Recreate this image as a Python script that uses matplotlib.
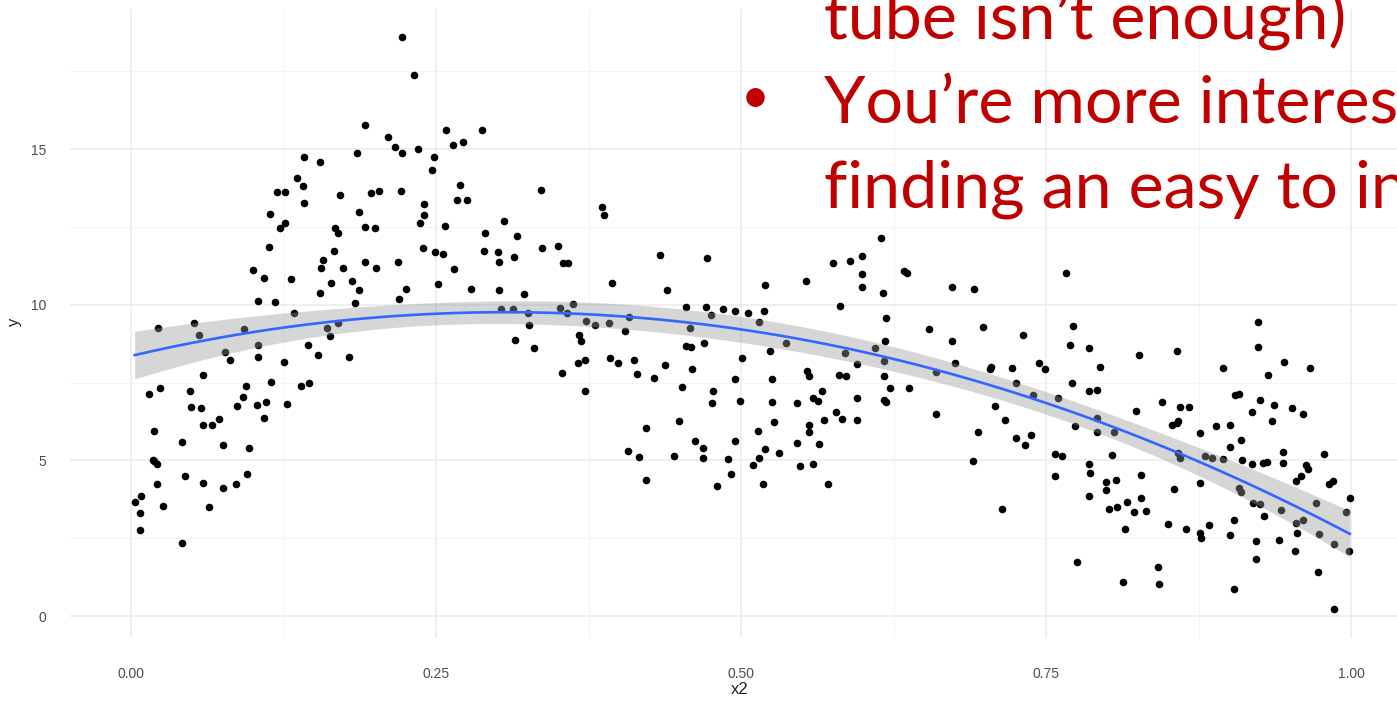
import numpy as np
import matplotlib
matplotlib.use("Agg")
import matplotlib.pyplot as plt

# ---- observations -------------------------------------------------------
x2 = np.array([
    0.114, 0.113, 0.100, 0.109, 0.104, 0.022, 0.052, 0.056, 0.093, 0.104, 0.077, 0.081,
    0.104, 0.059, 0.015, 0.024, 0.048, 0.094, 0.092, 0.087, 0.103, 0.111, 0.049, 0.057,
    0.059, 0.066, 0.072, 0.109, 0.019, 0.042, 0.075, 0.097, 0.018, 0.019, 0.021, 0.044,
    0.021, 0.059, 0.075, 0.086, 0.095, 0.003, 0.008, 0.007, 0.026, 0.064, 0.007, 0.042,
    0.222, 0.232, 0.192, 0.211, 0.216, 0.222, 0.235, 0.185, 0.142, 0.155, 0.136, 0.141,
    0.120, 0.126, 0.142, 0.171, 0.197, 0.203, 0.221, 0.187, 0.240, 0.240, 0.237, 0.122,
    0.126, 0.167, 0.170, 0.192, 0.200, 0.166, 0.157, 0.156, 0.174, 0.192, 0.201, 0.219,
    0.239, 0.131, 0.164, 0.155, 0.181, 0.187, 0.184, 0.220, 0.225, 0.118, 0.134, 0.161,
    0.163, 0.170, 0.145, 0.153, 0.179, 0.125, 0.115, 0.139, 0.146, 0.128,
    0.248, 0.247, 0.258, 0.264, 0.272, 0.288, 0.270, 0.267, 0.275, 0.257, 0.249, 0.256,
    0.265, 0.252, 0.279, 0.290, 0.289, 0.301, 0.302, 0.306, 0.316, 0.314, 0.302, 0.322,
    0.336, 0.337, 0.350, 0.354, 0.358, 0.303, 0.313, 0.325, 0.326, 0.315, 0.330, 0.352,
    0.357, 0.353,
    0.386, 0.388, 0.434, 0.472, 0.394, 0.439, 0.362, 0.367, 0.369, 0.366, 0.372, 0.372,
    0.373, 0.380, 0.392, 0.408, 0.405, 0.393, 0.399, 0.412, 0.415, 0.429, 0.438, 0.455,
    0.471, 0.475, 0.458, 0.455, 0.459, 0.470, 0.460, 0.452, 0.477, 0.476, 0.422, 0.449,
    0.407, 0.416, 0.422, 0.445, 0.462, 0.469, 0.469, 0.480,
    0.575, 0.589, 0.599, 0.599, 0.599, 0.520, 0.553, 0.581, 0.485, 0.495, 0.506, 0.519,
    0.515, 0.537, 0.585, 0.595, 0.501, 0.524, 0.495, 0.525, 0.554, 0.556, 0.566, 0.580,
    0.586, 0.499, 0.525, 0.546, 0.559, 0.563, 0.595, 0.527, 0.568, 0.556, 0.578, 0.583,
    0.595, 0.495, 0.514, 0.520, 0.515, 0.531, 0.546, 0.556, 0.564, 0.489, 0.492, 0.510,
    0.548, 0.559, 0.518, 0.571,
    0.615, 0.634, 0.636, 0.616, 0.673, 0.691, 0.619, 0.654, 0.673, 0.698, 0.610, 0.618,
    0.617, 0.617, 0.622, 0.638, 0.617, 0.619, 0.660, 0.675, 0.704, 0.705, 0.722, 0.725,
    0.708, 0.716, 0.660, 0.694, 0.725, 0.690, 0.714,
    0.766, 0.731, 0.772, 0.770, 0.785, 0.794, 0.744, 0.749, 0.771, 0.785, 0.792, 0.826,
    0.739, 0.760, 0.792, 0.774, 0.792, 0.806, 0.824, 0.845, 0.853, 0.738, 0.733, 0.757,
    0.763, 0.804, 0.785, 0.786, 0.757, 0.799, 0.807, 0.828, 0.785, 0.799, 0.802, 0.808,
    0.816, 0.822, 0.828, 0.832, 0.815, 0.850, 0.775, 0.813, 0.842, 0.843,
    0.924, 0.924, 0.857, 0.895, 0.945, 0.966, 0.932, 0.905, 0.908, 0.925, 0.860, 0.867,
    0.937, 0.919, 0.952, 0.961, 0.857, 0.858, 0.876, 0.889, 0.901, 0.935, 0.910, 0.901,
    0.880, 0.886, 0.895, 0.858, 0.860, 0.911, 0.919, 0.928, 0.931, 0.944, 0.944, 0.978,
    0.963, 0.965, 0.959, 0.955, 0.982, 0.985, 0.855, 0.876, 0.908, 0.910, 0.999, 0.971,
    0.920, 0.925, 0.943, 0.996, 0.929, 0.904, 0.884, 0.865, 0.876, 0.877, 0.901, 0.955,
    0.961, 0.956, 0.974, 0.986, 0.998, 0.922, 0.941, 0.954, 0.922, 0.973, 0.904, 0.986,
])

y = np.array([
    12.90, 11.85, 11.13, 10.86, 10.11, 9.24, 9.40, 9.02, 9.21, 8.72, 8.47, 8.23,
    8.33, 7.74, 7.13, 7.33, 7.23, 7.40, 7.04, 6.75, 6.79, 6.89, 6.72, 6.67,
    6.14, 6.14, 6.32, 6.35, 5.95, 5.58, 5.49, 5.41, 5.01, 4.97, 4.88, 4.51,
    4.24, 4.28, 4.12, 4.23, 4.56, 3.65, 3.84, 3.32, 3.54, 3.49, 2.76, 2.36,
    18.60, 17.39, 15.78, 15.39, 15.08, 14.87, 15.01, 14.87, 14.75, 14.60, 14.07, 13.81,
    13.63, 13.63, 13.28, 13.53, 13.58, 13.65, 13.65, 12.99, 13.23, 12.88, 12.64, 12.47,
    12.63, 12.47, 12.29, 12.50, 12.46, 11.73, 11.44, 11.18, 11.19, 11.38, 11.19, 11.37,
    11.81, 10.82, 10.70, 10.39, 10.76, 10.46, 10.04, 10.20, 10.49, 10.10, 9.75, 9.24,
    8.99, 9.42, 8.71, 8.38, 8.33, 8.17, 7.52, 7.39, 7.47, 6.81,
    14.76, 14.34, 15.60, 15.12, 15.22, 15.62, 13.86, 13.38, 13.38, 12.52, 11.69, 11.62,
    11.14, 10.66, 10.50, 12.31, 11.72, 11.70, 11.38, 12.69, 12.21, 11.54, 10.48, 10.34,
    13.69, 11.83, 11.89, 11.35, 11.35, 9.86, 9.86, 9.74, 9.34, 8.87, 8.60, 9.90,
    9.74, 7.80,
    13.15, 12.88, 11.60, 11.51, 10.71, 10.47, 10.02, 9.04, 8.84, 8.14, 8.23, 7.24,
    9.48, 9.35, 9.40, 9.61, 9.15, 8.28, 8.14, 8.22, 7.76, 7.64, 8.07, 9.94,
    9.94, 9.68, 9.25, 8.67, 8.63, 8.76, 7.93, 7.37, 7.22, 6.84, 6.04, 6.25,
    5.31, 5.12, 4.38, 5.14, 5.63, 5.41, 5.07, 4.17,
    11.34, 11.39, 11.55, 11.00, 10.58, 10.64, 10.76, 9.95, 9.86, 9.80, 9.74, 9.80,
    9.46, 8.78, 8.45, 8.11, 8.28, 8.50, 7.63, 7.60, 7.87, 7.70, 7.24, 7.74,
    7.70, 6.90, 6.89, 6.83, 6.99, 6.91, 7.00, 6.22, 6.29, 6.14, 6.54, 6.33,
    6.30, 5.61, 5.95, 5.35, 5.09, 5.24, 5.56, 5.90, 5.52, 5.06, 4.55, 4.86,
    4.82, 4.87, 4.23, 4.23,
    12.14, 11.09, 11.03, 10.37, 10.58, 10.49, 9.56, 9.21, 8.84, 9.30, 8.60, 8.84,
    8.20, 7.71, 7.34, 7.34, 6.94, 6.88, 7.84, 8.12, 7.93, 8.01, 7.98, 7.47,
    6.75, 6.30, 6.48, 5.90, 5.71, 4.98, 3.44,
    11.01, 9.04, 9.31, 8.70, 8.62, 8.00, 8.12, 7.93, 7.49, 7.22, 7.27, 8.39,
    7.10, 7.01, 6.36, 6.11, 5.90, 5.90, 6.58, 6.89, 6.14, 5.83, 5.50, 5.22,
    5.13, 5.18, 4.88, 4.58, 4.51, 4.29, 4.37, 4.54, 3.87, 4.05, 3.44, 3.49,
    3.67, 3.35, 3.80, 3.38, 2.78, 2.95, 1.72, 1.09, 1.56, 1.02,
    9.43, 8.63, 8.52, 7.96, 8.17, 7.98, 7.74, 7.10, 7.13, 6.95, 6.73, 6.70,
    6.78, 6.57, 6.69, 6.48, 6.20, 6.27, 5.87, 6.09, 6.14, 6.25, 5.67, 5.42,
    5.13, 5.09, 5.04, 5.25, 5.07, 5.01, 4.88, 4.92, 4.94, 5.28, 4.92, 5.22,
    4.86, 4.72, 4.51, 4.33, 4.24, 4.33, 4.08, 4.27, 4.12, 3.99, 3.78, 3.63,
    3.63, 3.59, 3.41, 3.35, 3.21, 3.08, 2.94, 2.79, 2.67, 2.52, 2.61, 3.00,
    3.10, 2.67, 2.63, 2.32, 2.08, 2.40, 2.45, 2.08, 1.83, 1.43, 0.87, 0.23,
])

x_ticks = [0.0, 0.25, 0.5, 0.75, 1.0]
x_tick_labels = ["0.00", "0.25", "0.50", "0.75", "1.00"]
x_minor = [0.125, 0.375, 0.625, 0.875]
y_ticks = [0, 5, 10, 15]
y_tick_labels = ["0", "5", "10", "15"]
y_minor = [2.5, 7.5, 12.5, 17.5]

slide_lines = [
    "tube isn\u2019t enough)",
    "You\u2019re more interest",
    "finding an easy to int",
]

# ---- quadratic least-squares smooth with 95% confidence band ------------
X = np.column_stack([np.ones_like(x2), x2, x2 ** 2])
beta, *_ = np.linalg.lstsq(X, y, rcond=None)
resid = y - X @ beta
n, p = X.shape
s2 = resid @ resid / (n - p)
xtx_inv = np.linalg.inv(X.T @ X)
xs = np.linspace(x2.min(), x2.max(), 80)
Xs = np.column_stack([np.ones_like(xs), xs, xs ** 2])
fit = Xs @ beta
se = np.sqrt(np.einsum("ij,jk,ik->i", Xs, xtx_inv, Xs) * s2)
t_crit = 1.966
lo, hi = fit - t_crit * se, fit + t_crit * se

# ---- figure ------------------------------------------------------------
W, H = 1397, 701
fig = plt.figure(figsize=(W / 100, H / 100), dpi=100)
fig.patch.set_facecolor("white")
ax = fig.add_axes([70 / W, 1 - 637.5 / H, 1342 / W, 628.5 / H])
ax.set_facecolor("white")

ax.scatter(x2, y, s=30, color="black", linewidths=0, zorder=3)
ax.fill_between(xs, lo, hi, color="#999999", alpha=0.4, linewidth=0, zorder=4)
ax.plot(xs, fit, color="#3366FF", linewidth=1.9, zorder=5)

ax.set_xlim(-0.05, 1.05)
ax.set_ylim(-0.69, 19.5)
ax.set_xticks(x_ticks)
ax.set_xticklabels(x_tick_labels)
ax.set_xticks(x_minor, minor=True)
ax.set_yticks(y_ticks)
ax.set_yticklabels(y_tick_labels)
ax.set_yticks(y_minor, minor=True)

ax.grid(which="major", color="#EBEBEB", linewidth=1.1, zorder=0)
ax.grid(which="minor", color="#F3F3F3", linewidth=0.6, zorder=0)
ax.set_axisbelow(True)
for sp in ax.spines.values():
    sp.set_visible(False)

ax.tick_params(which="both", length=0)
ax.tick_params(axis="x", pad=21, labelsize=10, labelcolor="#4D4D4D")
ax.tick_params(axis="y", pad=17, labelsize=10, labelcolor="#4D4D4D")
for lab in ax.get_xticklabels() + ax.get_yticklabels():
    lab.set_family("Liberation Sans")

ax.set_xlabel("x2", fontsize=12, family="Liberation Sans", color="#222222")
ax.xaxis.set_label_coords(0.4993, -0.0835)
ax.xaxis.label.set_va("center")
ax.set_ylabel("y", fontsize=12, family="Liberation Sans", color="#222222")
ax.yaxis.set_label_coords(-0.041, 0.502)
ax.yaxis.label.set_va("center")

# ---- slide text on top ---------------------------------------------------
red = "#C00000"
fig.canvas.draw()
renderer = fig.canvas.get_renderer()
probe = fig.text(0, 0, slide_lines[0], fontsize=40, family="Lato")
wpx = probe.get_window_extent(renderer).width
probe.remove()
fs = 40 * 522 / wpx

baselines = [38, 123, 207]
for line, b in zip(slide_lines, baselines):
    fig.text(824 / W, 1 - b / H, line, fontsize=fs, family="Lato",
             color=red, ha="left", va="baseline")
fig.text(755 / W, 1 - 99 / H, "\u2022", fontsize=fs * 0.75, family="Lato",
         color=red, ha="center", va="center")

fig.savefig("out.png", dpi=100, facecolor="white")
